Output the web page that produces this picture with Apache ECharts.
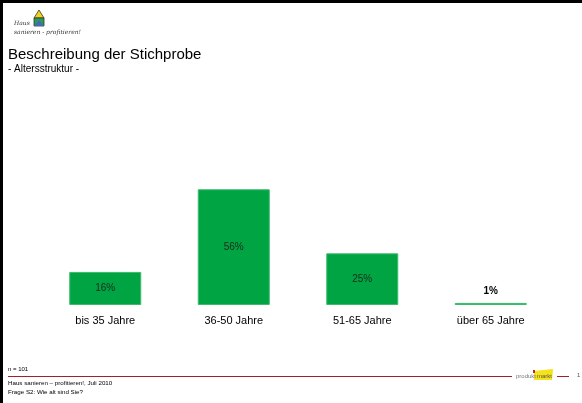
<!DOCTYPE html>
<html>
<head>
<meta charset="utf-8">
<script src="https://cdn.jsdelivr.net/npm/echarts@6/dist/echarts.min.js"></script>
<style>
  html, body { margin: 0; padding: 0; background: #fff; }
  #chart { width: 582px; height: 403px; }
</style>
</head>
<body>
<div id="chart"></div>
<script>
// Altersgruppen und Anteile (%)
const categories = ["bis 35 Jahre", "36-50 Jahre", "51-65 Jahre", "über 65 Jahre"];
const shares = [16, 56, 25, 1];
const sampleSize = 101;

const chart = echarts.init(document.getElementById("chart"));
const font = "Liberation Sans, Arial, sans-serif";

const barData = shares.map((v) => {
  // kleiner Balken: Beschriftung oberhalb, fett
  if (v < 5) {
    return {
      value: v,
      label: { position: "top", distance: 7, fontWeight: "bold", color: "#000" },
    };
  }
  return v;
});

const option = {
  animation: false,
  textStyle: { fontFamily: font },
  grid: { left: 41, width: 514, top: 181, height: 124 },
  xAxis: {
    type: "category",
    data: categories,
    axisLine: { show: false },
    axisTick: { show: false },
    axisLabel: { color: "#000", fontSize: 11, margin: 10, fontFamily: font },
  },
  yAxis: {
    type: "value",
    min: 0,
    max: 60,
    show: false,
    splitLine: { show: false },
  },
  series: [
    {
      type: "bar",
      data: barData,
      barWidth: 72,
      itemStyle: { color: "#00a443", borderColor: "#3dbb6c", borderWidth: 1 },
      label: {
        show: true,
        position: "inside",
        formatter: "{c}%",
        color: "#1a2a1a",
        fontSize: 10,
        fontFamily: font,
      },
    },
  ],
  graphic: [
    // Rahmen oben und links
    { type: "rect", shape: { x: 0, y: 0, width: 582, height: 3 }, style: { fill: "#000" } },
    { type: "rect", shape: { x: 0, y: 0, width: 3, height: 403 }, style: { fill: "#000" } },
    // Logo Haus
    { type: "polygon", shape: { points: [[39, 10], [34, 18], [44, 18]] }, style: { fill: "#f2d21b", stroke: "#333", lineWidth: 0.8 } },
    { type: "rect", shape: { x: 34, y: 18, width: 10, height: 8 }, style: { fill: "#2e9a5a", stroke: "#333", lineWidth: 0.8 } },
    { type: "polygon", shape: { points: [[34, 26], [39, 20], [44, 26]] }, style: { fill: "#3d6fb0" } },
    { type: "text", left: 14, top: 20, style: { text: "Haus", font: "italic 6px DejaVu Serif", fill: "#333" } },
    { type: "text", left: 14, top: 29, style: { text: "sanieren - profitieren!", font: "italic 6px DejaVu Serif", fill: "#333" } },
    // Titel
    { type: "text", left: 8, top: 47, style: { text: "Beschreibung der Stichprobe", font: "15px " + font, fill: "#000" } },
    { type: "text", left: 8, top: 64, style: { text: "- Altersstruktur -", font: "10px " + font, fill: "#000" } },
    // Fußzeile
    { type: "text", left: 8, top: 366, style: { text: "n = " + sampleSize, font: "6px " + font, fill: "#000" } },
    { type: "line", shape: { x1: 8, y1: 376.5, x2: 512, y2: 376.5 }, style: { stroke: "#9e2329", lineWidth: 1 } },
    { type: "line", shape: { x1: 557, y1: 376.5, x2: 569, y2: 376.5 }, style: { stroke: "#9e2329", lineWidth: 1 } },
    { type: "text", left: 8, top: 380, style: { text: "Haus sanieren – profitieren!, Juli 2010", font: "6.2px " + font, fill: "#000" } },
    { type: "text", left: 8, top: 389, style: { text: "Frage S2: Wie alt sind Sie?", font: "6.2px " + font, fill: "#000" } },
    // produkt+markt Logo
    { type: "polygon", shape: { points: [[534, 371], [553, 369], [552, 380], [534, 380]] }, style: { fill: "#f4e21a" } },
    { type: "rect", shape: { x: 533, y: 370, width: 2, height: 3 }, style: { fill: "#c8202a" } },
    { type: "text", left: 516, top: 373, style: { text: "produkt", font: "6px " + font, fill: "#777" } },
    { type: "text", left: 537, top: 373, style: { text: "markt", font: "6px " + font, fill: "#555" } },
    { type: "text", left: 577, top: 372, style: { text: "1", font: "6px " + font, fill: "#555" } },
  ],
};

chart.setOption(option);
</script>
</body>
</html>
